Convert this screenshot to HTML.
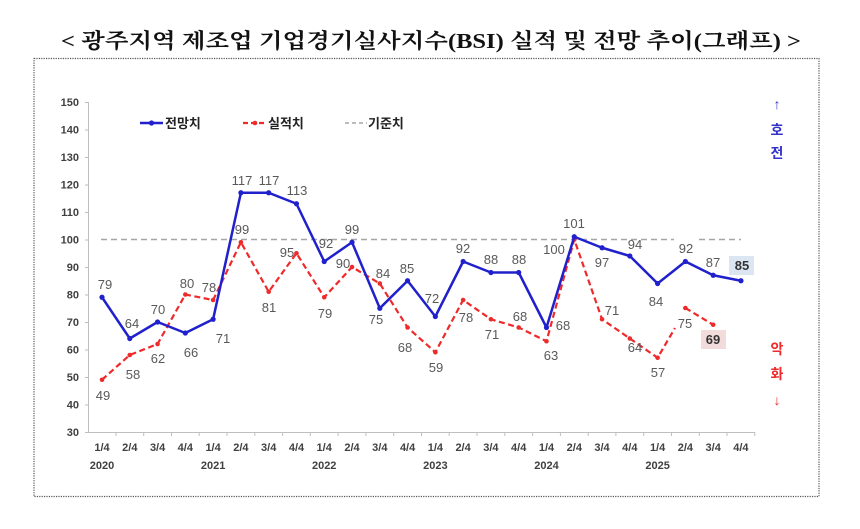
<!DOCTYPE html>
<html><head><meta charset="utf-8"><style>
html,body{margin:0;padding:0;background:#fff;}
svg{display:block;}
</style></head><body>
<svg width="860" height="529" viewBox="0 0 860 529" xmlns="http://www.w3.org/2000/svg">
<rect x="0" y="0" width="860" height="529" fill="#fff"/>
<text x="431" y="48" text-anchor="middle" font-family="'Liberation Serif','Noto Serif CJK SC','Noto Sans CJK KR',serif" font-size="21" font-weight="bold" fill="#111" textLength="740" lengthAdjust="spacingAndGlyphs">&lt; 광주지역 제조업 기업경기실사지수(BSI) 실적 및 전망 추이(그래프) &gt;</text>
<rect x="34" y="58.5" width="785" height="438" fill="none" stroke="#555" stroke-width="1.2" stroke-dasharray="1.2 1.2"/>

<!-- axes -->
<g stroke="#bfbfbf" stroke-width="1" fill="none">
<line x1="88.5" y1="102" x2="88.5" y2="432"/>
<line x1="88.5" y1="432.5" x2="755" y2="432.5"/>
<line x1="85" y1="102.5" x2="88.5" y2="102.5"/><line x1="85" y1="130" x2="88.5" y2="130"/><line x1="85" y1="157.5" x2="88.5" y2="157.5"/><line x1="85" y1="185" x2="88.5" y2="185"/><line x1="85" y1="212.5" x2="88.5" y2="212.5"/><line x1="85" y1="240" x2="88.5" y2="240"/><line x1="85" y1="267.5" x2="88.5" y2="267.5"/><line x1="85" y1="295" x2="88.5" y2="295"/><line x1="85" y1="322.5" x2="88.5" y2="322.5"/><line x1="85" y1="350" x2="88.5" y2="350"/><line x1="85" y1="377.5" x2="88.5" y2="377.5"/><line x1="85" y1="405" x2="88.5" y2="405"/><line x1="85" y1="432.5" x2="88.5" y2="432.5"/>
<line x1="116" y1="432" x2="116" y2="436"/><line x1="143.7" y1="432" x2="143.7" y2="436"/><line x1="171.5" y1="432" x2="171.5" y2="436"/><line x1="199.2" y1="432" x2="199.2" y2="436"/><line x1="227" y1="432" x2="227" y2="436"/><line x1="254.8" y1="432" x2="254.8" y2="436"/><line x1="282.6" y1="432" x2="282.6" y2="436"/><line x1="310.3" y1="432" x2="310.3" y2="436"/><line x1="338.1" y1="432" x2="338.1" y2="436"/><line x1="365.9" y1="432" x2="365.9" y2="436"/><line x1="393.7" y1="432" x2="393.7" y2="436"/><line x1="421.5" y1="432" x2="421.5" y2="436"/><line x1="449.2" y1="432" x2="449.2" y2="436"/><line x1="477" y1="432" x2="477" y2="436"/><line x1="504.8" y1="432" x2="504.8" y2="436"/><line x1="532.6" y1="432" x2="532.6" y2="436"/><line x1="560.4" y1="432" x2="560.4" y2="436"/><line x1="588.2" y1="432" x2="588.2" y2="436"/><line x1="615.9" y1="432" x2="615.9" y2="436"/><line x1="643.7" y1="432" x2="643.7" y2="436"/><line x1="671.5" y1="432" x2="671.5" y2="436"/><line x1="699.3" y1="432" x2="699.3" y2="436"/><line x1="727" y1="432" x2="727" y2="436"/><line x1="754.8" y1="432" x2="754.8" y2="436"/>
</g>

<!-- y labels -->
<g font-family="'Liberation Sans',sans-serif" font-size="11" font-weight="bold" fill="#404040" text-anchor="end">
<text x="79" y="106">150</text><text x="79" y="133.5">140</text><text x="79" y="161">130</text><text x="79" y="188.5">120</text><text x="79" y="216">110</text><text x="79" y="243.5">100</text><text x="79" y="271">90</text><text x="79" y="298.5">80</text><text x="79" y="326">70</text><text x="79" y="353.5">60</text><text x="79" y="381">50</text><text x="79" y="408.5">40</text><text x="79" y="436">30</text>
</g>

<!-- x labels -->
<g font-family="'Liberation Sans',sans-serif" font-size="11" font-weight="bold" fill="#404040" text-anchor="middle">
<text x="102" y="451">1/4</text><text x="129.8" y="451">2/4</text><text x="157.6" y="451">3/4</text><text x="185.3" y="451">4/4</text>
<text x="213.1" y="451">1/4</text><text x="240.9" y="451">2/4</text><text x="268.7" y="451">3/4</text><text x="296.5" y="451">4/4</text>
<text x="324.2" y="451">1/4</text><text x="352" y="451">2/4</text><text x="379.8" y="451">3/4</text><text x="407.6" y="451">4/4</text>
<text x="435.4" y="451">1/4</text><text x="463.1" y="451">2/4</text><text x="490.9" y="451">3/4</text><text x="518.7" y="451">4/4</text>
<text x="546.5" y="451">1/4</text><text x="574.3" y="451">2/4</text><text x="602" y="451">3/4</text><text x="629.8" y="451">4/4</text>
<text x="657.6" y="451">1/4</text><text x="685.4" y="451">2/4</text><text x="713.2" y="451">3/4</text><text x="740.9" y="451">4/4</text>
<text x="102" y="469">2020</text><text x="213.1" y="469">2021</text><text x="324.2" y="469">2022</text><text x="435.4" y="469">2023</text><text x="546.5" y="469">2024</text><text x="657.6" y="469">2025</text>
</g>

<!-- baseline 100 -->
<line x1="101" y1="239.5" x2="674" y2="239.5" stroke="#a6a6a6" stroke-width="1.5" stroke-dasharray="6 4"/>
<line x1="699" y1="239.5" x2="741" y2="239.5" stroke="#a6a6a6" stroke-width="1.5" stroke-dasharray="6 4"/>

<!-- red series -->
<g stroke="#ee2a2a" stroke-width="2.2" fill="none" stroke-dasharray="6 3.5">
<polyline points="102,379.75 129.78,355 157.56,344 185.34,294.5 213.12,300 240.9,242.25 268.68,291.75 296.46,253.25 324.24,297.25 352.02,267 379.8,283.5 407.58,327.5 435.36,352.25 463.14,300 490.92,319.25 518.7,327.5 546.48,341.25 574.26,239.5 602.04,319.25 629.82,338.5 657.6,357.75 675,328"/>
<polyline points="685.38,308 713.16,324.75"/>
</g>
<g fill="#ee2a2a">
<circle cx="102" cy="379.75" r="2.3"/><circle cx="129.78" cy="355" r="2.3"/><circle cx="157.56" cy="344" r="2.3"/><circle cx="185.34" cy="294.5" r="2.3"/><circle cx="213.12" cy="300" r="2.3"/><circle cx="240.9" cy="242.25" r="2.3"/><circle cx="268.68" cy="291.75" r="2.3"/><circle cx="296.46" cy="253.25" r="2.3"/><circle cx="324.24" cy="297.25" r="2.3"/><circle cx="352.02" cy="267" r="2.3"/><circle cx="379.8" cy="283.5" r="2.3"/><circle cx="407.58" cy="327.5" r="2.3"/><circle cx="435.36" cy="352.25" r="2.3"/><circle cx="463.14" cy="300" r="2.3"/><circle cx="490.92" cy="319.25" r="2.3"/><circle cx="518.7" cy="327.5" r="2.3"/><circle cx="546.48" cy="341.25" r="2.3"/><circle cx="574.26" cy="239.5" r="2.3"/><circle cx="602.04" cy="319.25" r="2.3"/><circle cx="629.82" cy="338.5" r="2.3"/><circle cx="657.6" cy="357.75" r="2.3"/><circle cx="685.38" cy="308" r="2.3"/><circle cx="713.16" cy="324.75" r="2.3"/>
</g>

<!-- blue series -->
<polyline fill="none" stroke="#2020cc" stroke-width="2.5" stroke-linejoin="round" points="102,297.25 129.78,338.5 157.56,322 185.34,333 213.12,319.25 240.9,192.75 268.68,192.75 296.46,203.75 324.24,261.5 352.02,242.25 379.8,308.25 407.58,280.75 435.36,316.5 463.14,261.5 490.92,272.5 518.7,272.5 546.48,327.5 574.26,236.75 602.04,247.75 629.82,256 657.6,283.5 685.38,261.5 713.16,275.25 740.94,280.75"/>
<g fill="#2020cc">
<circle cx="102" cy="297.25" r="2.6"/><circle cx="129.78" cy="338.5" r="2.6"/><circle cx="157.56" cy="322" r="2.6"/><circle cx="185.34" cy="333" r="2.6"/><circle cx="213.12" cy="319.25" r="2.6"/><circle cx="240.9" cy="192.75" r="2.6"/><circle cx="268.68" cy="192.75" r="2.6"/><circle cx="296.46" cy="203.75" r="2.6"/><circle cx="324.24" cy="261.5" r="2.6"/><circle cx="352.02" cy="242.25" r="2.6"/><circle cx="379.8" cy="308.25" r="2.6"/><circle cx="407.58" cy="280.75" r="2.6"/><circle cx="435.36" cy="316.5" r="2.6"/><circle cx="463.14" cy="261.5" r="2.6"/><circle cx="490.92" cy="272.5" r="2.6"/><circle cx="518.7" cy="272.5" r="2.6"/><circle cx="546.48" cy="327.5" r="2.6"/><circle cx="574.26" cy="236.75" r="2.6"/><circle cx="602.04" cy="247.75" r="2.6"/><circle cx="629.82" cy="256" r="2.6"/><circle cx="657.6" cy="283.5" r="2.6"/><circle cx="685.38" cy="261.5" r="2.6"/><circle cx="713.16" cy="275.25" r="2.6"/><circle cx="740.94" cy="280.75" r="2.6"/>
</g>

<!-- highlight boxes -->
<rect x="729" y="256" width="25" height="19" fill="#dce6f2"/>
<rect x="701" y="330" width="25" height="19" fill="#f2dcdb"/>

<!-- value labels -->
<g font-family="'Liberation Sans',sans-serif" font-size="13" fill="#595959" text-anchor="middle">
<text x="105" y="289">79</text><text x="132" y="328">64</text><text x="158" y="314">70</text><text x="191" y="357">66</text><text x="223" y="343">71</text>
<text x="242" y="185">117</text><text x="269" y="185">117</text><text x="297" y="195">113</text><text x="326" y="248">92</text><text x="352" y="234">99</text>
<text x="376" y="324">75</text><text x="407" y="273">85</text><text x="432" y="303">72</text><text x="463" y="253">92</text><text x="491" y="264">88</text><text x="519" y="264">88</text>
<text x="563" y="330">68</text><text x="574" y="228">101</text><text x="602" y="267">97</text><text x="635" y="249">94</text><text x="656" y="306">84</text><text x="686" y="253">92</text><text x="713" y="267">87</text>
<text x="103" y="400">49</text><text x="133" y="379">58</text><text x="158" y="363">62</text><text x="187" y="288">80</text><text x="209" y="292">78</text>
<text x="242" y="234">99</text><text x="269" y="312">81</text><text x="287" y="257">95</text><text x="325" y="318">79</text><text x="343" y="268">90</text>
<text x="383" y="278">84</text><text x="405" y="352">68</text><text x="436" y="372">59</text><text x="466" y="322">78</text><text x="492" y="339">71</text><text x="520" y="321">68</text>
<text x="551" y="360">63</text><text x="554" y="254">100</text><text x="612" y="315">71</text><text x="635" y="352">64</text><text x="658" y="377">57</text><text x="685" y="328">75</text>
</g>
<g font-family="'Liberation Sans',sans-serif" font-size="13" font-weight="bold" fill="#333" text-anchor="middle">
<text x="742" y="270">85</text>
<text x="713" y="344">69</text>
</g>

<!-- legend -->
<line x1="140" y1="123" x2="163" y2="123" stroke="#2020cc" stroke-width="2.5"/>
<circle cx="151.5" cy="123" r="2.6" fill="#2020cc"/>
<line x1="243" y1="123" x2="267" y2="123" stroke="#ee2a2a" stroke-width="2.2" stroke-dasharray="5 3"/>
<circle cx="255" cy="123" r="2.3" fill="#ee2a2a"/>
<line x1="345" y1="123" x2="367" y2="123" stroke="#a6a6a6" stroke-width="1.5" stroke-dasharray="4 3"/>
<g font-family="'Liberation Sans','Noto Sans CJK KR',sans-serif" font-size="13" font-weight="bold" fill="#222">
<text x="165" y="128">전망치</text>
<text x="268" y="128">실적치</text>
<text x="368" y="128">기준치</text>
</g>

<!-- side labels -->
<g font-family="'Liberation Sans','Noto Sans CJK KR',sans-serif" font-size="14" font-weight="bold" text-anchor="middle">
<text x="777" y="109" fill="#3333cc">↑</text>
<text x="777" y="135" fill="#3333cc">호</text>
<text x="777" y="158" fill="#3333cc">전</text>
<text x="777" y="354" fill="#ee2a2a">악</text>
<text x="777" y="379" fill="#ee2a2a">화</text>
<text x="777" y="405" fill="#ee2a2a">↓</text>
</g>
</svg>
</body></html>
